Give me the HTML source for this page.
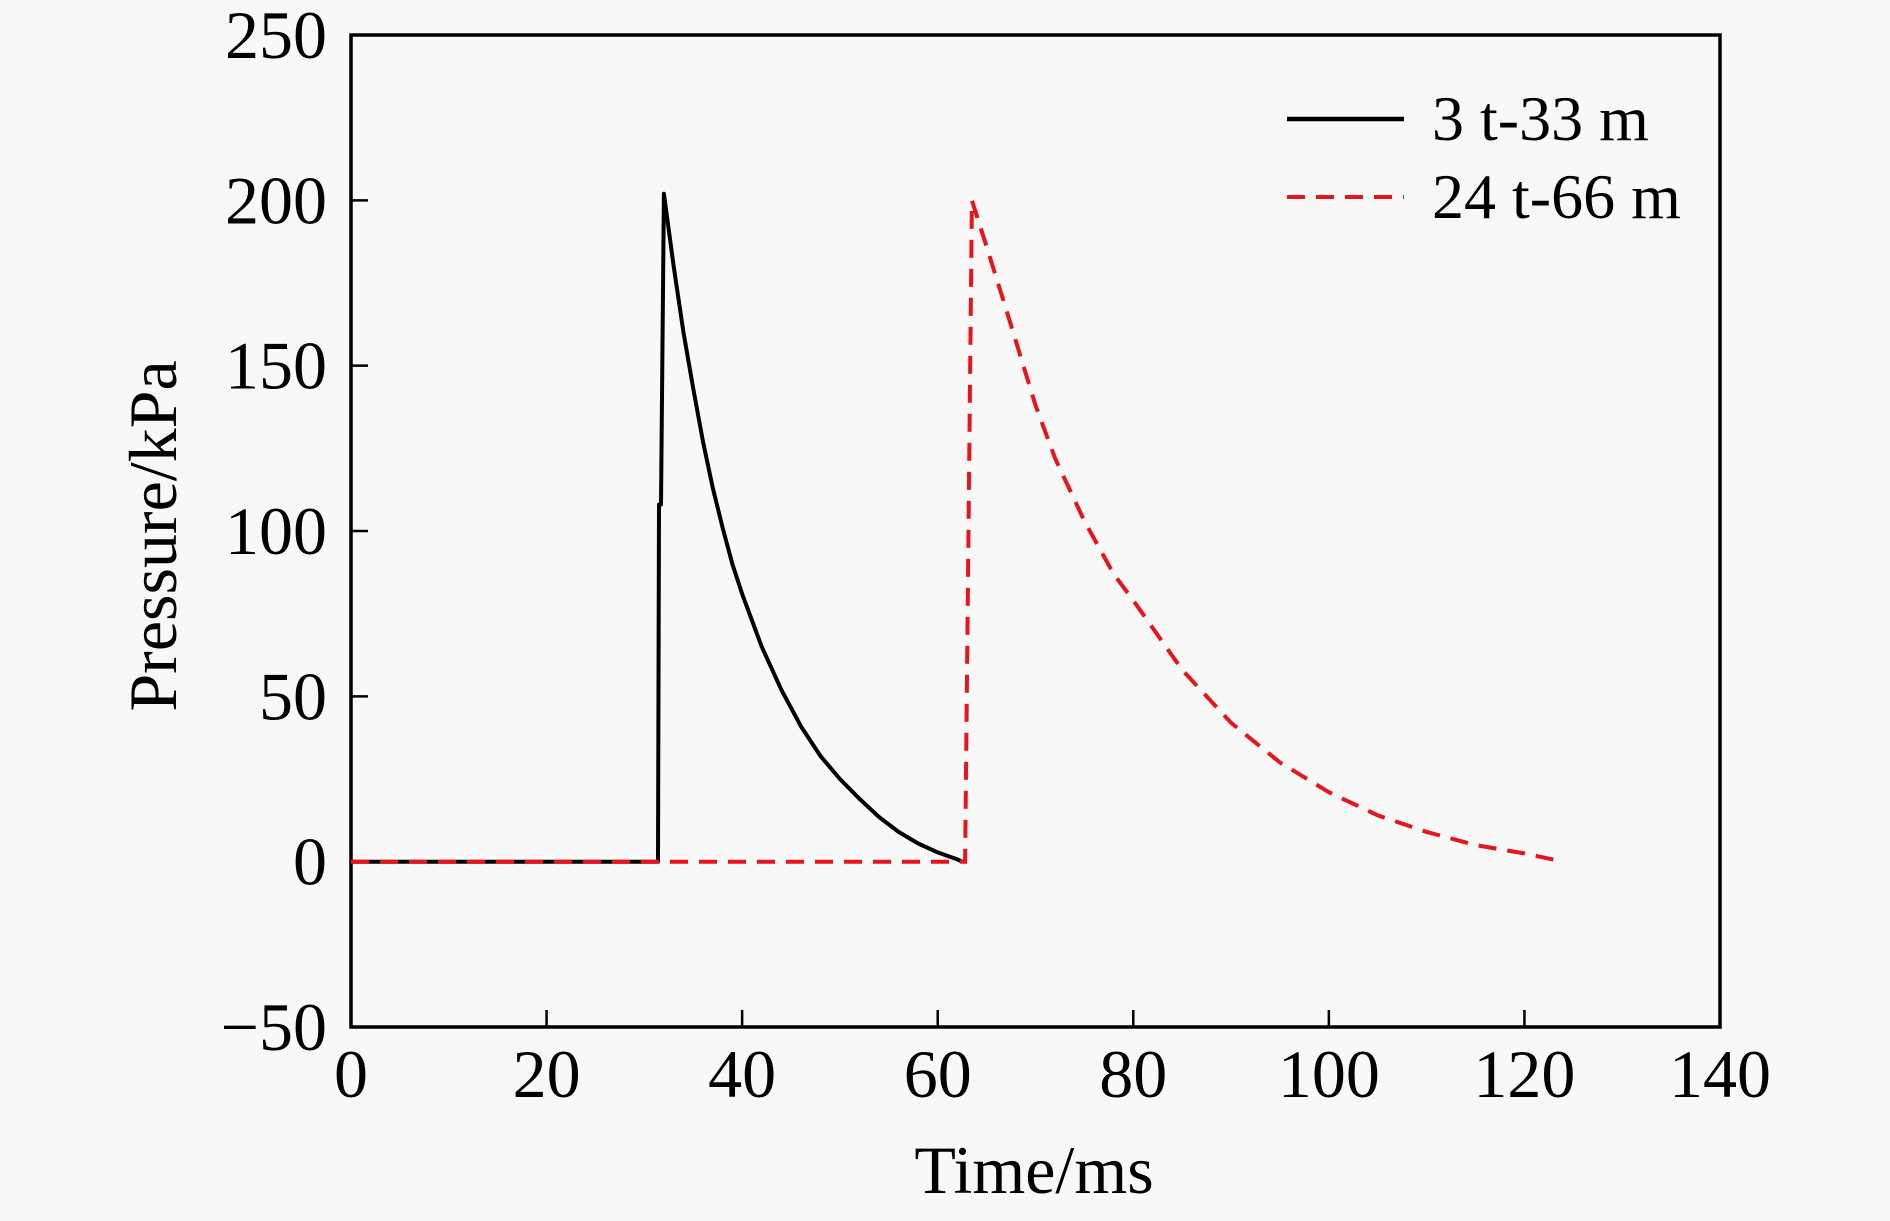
<!DOCTYPE html>
<html><head><meta charset="utf-8"><style>
html,body{margin:0;padding:0;background:#f8f8f8;}
svg{display:block;font-family:"Liberation Serif",serif;}
</style></head><body>
<svg width="1890" height="1221" viewBox="0 0 1890 1221">
<rect width="1890" height="1221" fill="#f8f8f8"/>
<rect x="351" y="35" width="1369" height="992" fill="none" stroke="#000" stroke-width="3.5"/>
<g id="ticks"></g>
<g id="series"></g>
<text x="1034" y="1193" font-size="68" text-anchor="middle">Time/ms</text>
<text x="0" y="0" font-size="68" text-anchor="middle" transform="translate(176,536) rotate(-90)">Pressure/kPa</text>
<g>
<line x1="1287" y1="119" x2="1404" y2="119" stroke="#000" stroke-width="4.5"/>
<text x="1432" y="140" font-size="64">3 t-33 m</text>
<line x1="1287" y1="197" x2="1404" y2="197" stroke="#e8141c" stroke-width="4" stroke-dasharray="18 11"/>
<text x="1432" y="218" font-size="64">24 t-66 m</text>
</g>
</svg>
<script>
const xTicks=[0,20,40,60,80,100,120,140];
const yTicks=[-50,0,50,100,150,200,250];
const blackT=[0,31.4,31.5,31.7,32,33,34,35,36,37,38,39,40,42,44,46,48,50,52,54,56,58,60,62,62.5];
const blackP=[0,0,108,108,202,180,160,143,127,113,101,90,81,65,52,41,32,25,19,13.5,9,5.5,2.8,0.7,0];
const redT=[0,62.8,63.5,65,67,70,72,75,78,80,85,90,95,100,105,110,115,120,124];
const redP=[0,0,200,186,167,138,122,103,87,79,58,42,30,21,14,9,5,2.5,0];
const X0=351,X1=1720,Y0=1027,Y1=35;
const sx=v=>X0+(v-0)/(140-0)*(X1-X0);
const sy=v=>Y0-(v+50)/(300)*(Y0-Y1);
const NS='http://www.w3.org/2000/svg';
const tk=document.getElementById('ticks');
function mk(tag,attrs,parent){const e=document.createElementNS(NS,tag);for(const k in attrs)e.setAttribute(k,attrs[k]);parent.appendChild(e);return e;}
xTicks.forEach(v=>{
 if(v>0&&v<140){const l=mk('line',{x1:sx(v),x2:sx(v),y1:Y0,y2:Y0-17,stroke:'#000','stroke-width':2.5},tk);
 
 }
 const t=mk('text',{x:sx(v),y:1097,'font-size':68,'text-anchor':'middle'},tk);t.textContent=v;
 
 
});
yTicks.forEach(v=>{
 if(v>-50&&v<250){const l=mk('line',{x1:X0,x2:X0+17,y1:sy(v),y2:sy(v),stroke:'#000','stroke-width':2.5},tk);
 
 }
 const t=mk('text',{x:327,y:sy(v)+23,'font-size':68,'text-anchor':'end'},tk);t.textContent=v<0?'\u2212'+(-v):v;
 
 
});
const sg=document.getElementById('series');
function pts(T,P){return T.map((t,i)=>sx(t).toFixed(1)+','+sy(P[i]).toFixed(1)).join(' ');}
const b=mk('polyline',{points:pts(blackT,blackP),fill:'none',stroke:'#000','stroke-width':4,'stroke-linejoin':'round'},sg);


const r=mk('polyline',{points:pts(redT,redP),fill:'none',stroke:'#e8141c','stroke-width':4,'stroke-dasharray':'18 11'},sg);


</script>
</body></html>
